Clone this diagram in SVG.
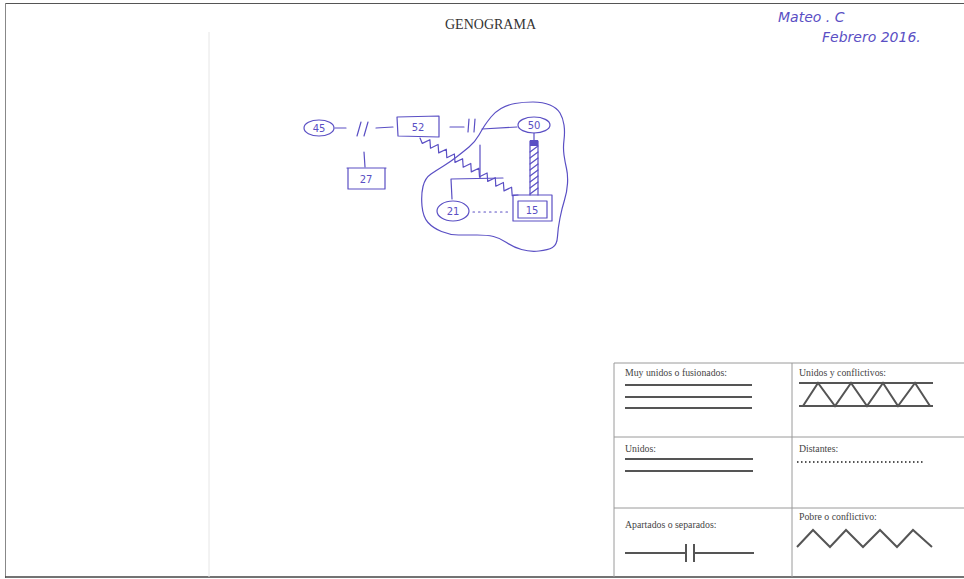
<svg xmlns="http://www.w3.org/2000/svg" width="964" height="579" viewBox="0 0 964 579">
<style>
.pen{fill:none;stroke:#5a4fc4;stroke-width:1.2;stroke-linecap:round;stroke-linejoin:round}
.pentxt{font-family:"DejaVu Sans",sans-serif;font-size:10px;fill:#5a4fc4;text-anchor:middle}
.hand{font-family:"DejaVu Sans",sans-serif;font-style:italic;font-size:14px;fill:#5a4fc4}
.leg{font-family:"Liberation Serif",serif;font-size:9.8px;fill:#444}
.lline{stroke:#555;stroke-width:2;fill:none}
.grid{stroke:#9a9a9a;stroke-width:1;fill:none}
</style>
<rect width="964" height="579" fill="#ffffff"/>
<g id="page">
<line x1="5" y1="3.5" x2="964" y2="3.5" stroke="#555" stroke-width="1.2"/>
<line x1="5.5" y1="3" x2="5.5" y2="578" stroke="#888" stroke-width="1"/>
<line x1="5" y1="577" x2="964" y2="577" stroke="#444" stroke-width="1.5"/>
<line x1="209" y1="32" x2="209" y2="577" stroke="#e6e6e6" stroke-width="1"/>
<text x="445" y="29" font-family="Liberation Serif,serif" font-size="14" fill="#333">GENOGRAMA</text>
<text class="hand" x="778" y="22">Mateo . C</text>
<text class="hand" x="822" y="42">Febrero 2016.</text>
</g>
<g id="connectors">
<path class="pen" d="M335,128 L346,128 M357,136 L361,122 M364,136 L368,122 M376,128 L393,127"/>
<path class="pen" d="M364,152 L365,167"/>
<path class="pen" d="M450,127 L464,127 M468,132 L469,119 M474,132 L475,119 M482,129 L517,127"/>
<path class="pen" d="M480,145 L480,178 M451,179 L503,178 M451,179 L452,199"/>
<path class="pen" d="M420,138 L422.3,143.4 L429.9,139.7 L430.5,148.2 L438.1,144.5 L438.7,152.9 L446.3,149.2 L446.8,157.7 L454.4,154 L455,162.4 L462.6,158.7 L463.2,167.2 L470.8,163.5 L471.3,171.9 L478.9,168.2 L479.5,176.7 L487.1,173 L487.7,181.4 L495.3,177.7 L495.8,186.2 L503.4,182.5 L504,190.9 L511.6,187.2 L512.2,195.7 L518,195"/>
<path class="pen" stroke-dasharray="1.5,4" d="M473,212 L511,212"/>
<path class="pen" d="M534,133 L534,141"/>
<g id="hatched">
<rect x="530" y="140" width="8" height="6" fill="#5a4fc4" stroke="none"/>
<path class="pen" d="M530,141 L530,195 M538,141 L538,195"/>
<path class="pen" stroke-width="0.9" d="M530,152 L538,146 M530,158 L538,152 M530,164 L538,158 M530,170 L538,164 M530,176 L538,170 M530,182 L538,176 M530,188 L538,182 M530,194 L538,188"/>
</g>
<path class="pen" d="M479,135 Q483,128 485,125 Q487,122 491,117 Q495,112 501,108.5 Q507,105 515,103.5 Q523,102 533,102 Q543,102 550,105 Q557,108 560,113 Q563,118 564,125 Q565,132 564,140 Q563,148 564,155 Q565,162 566.5,168.5 Q568,175 567.5,183.5 Q567,192 564.5,200 Q562,208 560,218 Q558,228 557.5,236.5 Q557,245 552.5,247.5 Q548,250 539,251 Q530,252 521.5,249.5 Q513,247 506.5,242.5 Q500,238 493.5,236.5 Q487,235 477,235 Q467,235 458.5,235 Q450,235 441.5,231.5 Q433,228 428,222.5 Q423,217 422,206 Q421,195 423,186.5 Q425,178 431,174 Q437,170 443.5,166 Q450,162 456.5,157 Q463,152 469,147 Q475,142 479,135 Z"/>
</g>
<g id="n45"><ellipse class="pen" cx="319" cy="128" rx="15" ry="8"/><text class="pentxt" x="319" y="132">45</text></g>
<g id="n52"><path class="pen" d="M397,117 L439,116 L439,137 L398,136 Z"/><text class="pentxt" x="418" y="131">52</text></g>
<g id="n50"><ellipse class="pen" cx="534" cy="125" rx="16" ry="8"/><text class="pentxt" x="534" y="129">50</text></g>
<g id="n27"><path class="pen" d="M347,168 L386,168 M348,168 L348,189 L385,189 L385,168"/><text class="pentxt" x="366" y="183">27</text></g>
<g id="n21"><ellipse class="pen" cx="453" cy="211" rx="16" ry="10"/><text class="pentxt" x="453" y="215">21</text></g>
<g id="n15"><rect class="pen" x="513" y="195" width="39" height="26"/><rect class="pen" x="518" y="201" width="29" height="17"/><text class="pentxt" x="532" y="214">15</text></g>
<g id="legend">
<path class="grid" d="M614,363 L964,363 M614,363 L614,577 M792,363 L792,577 M614,437 L964,437 M614,508 L964,508"/>
<text class="leg" x="625" y="376">Muy unidos o fusionados:</text>
<path class="lline" d="M625,385 L752,385 M625,397 L752,397 M625,408 L752,408"/>
<text class="leg" x="799" y="376">Unidos y conflictivos:</text>
<path class="lline" d="M799,383 L933,383 M799,406 L933,406 M803,406 L818,383 L835,406 L851,383 L867,406 L883,383 L898,406 L915,383 L930,406"/>
<text class="leg" x="625" y="452">Unidos:</text>
<path class="lline" d="M625,459 L753,459 M625,471 L753,471"/>
<text class="leg" x="799" y="452">Distantes:</text>
<path class="lline" stroke-width="1.5" stroke-dasharray="1.5,2.5" d="M797,462 L923,462"/>
<text class="leg" x="625" y="528">Apartados o separados:</text>
<path class="lline" d="M625,553 L686,553 M694,553 L754,553 M686,544 L686,562 M694,544 L694,562"/>
<text class="leg" x="799" y="520">Pobre o conflictivo:</text>
<path class="lline" d="M797,547 L813,530 L830,547 L846,530 L863,547 L880,530 L897,547 L913,530 L932,547"/>
</g>
</svg>
